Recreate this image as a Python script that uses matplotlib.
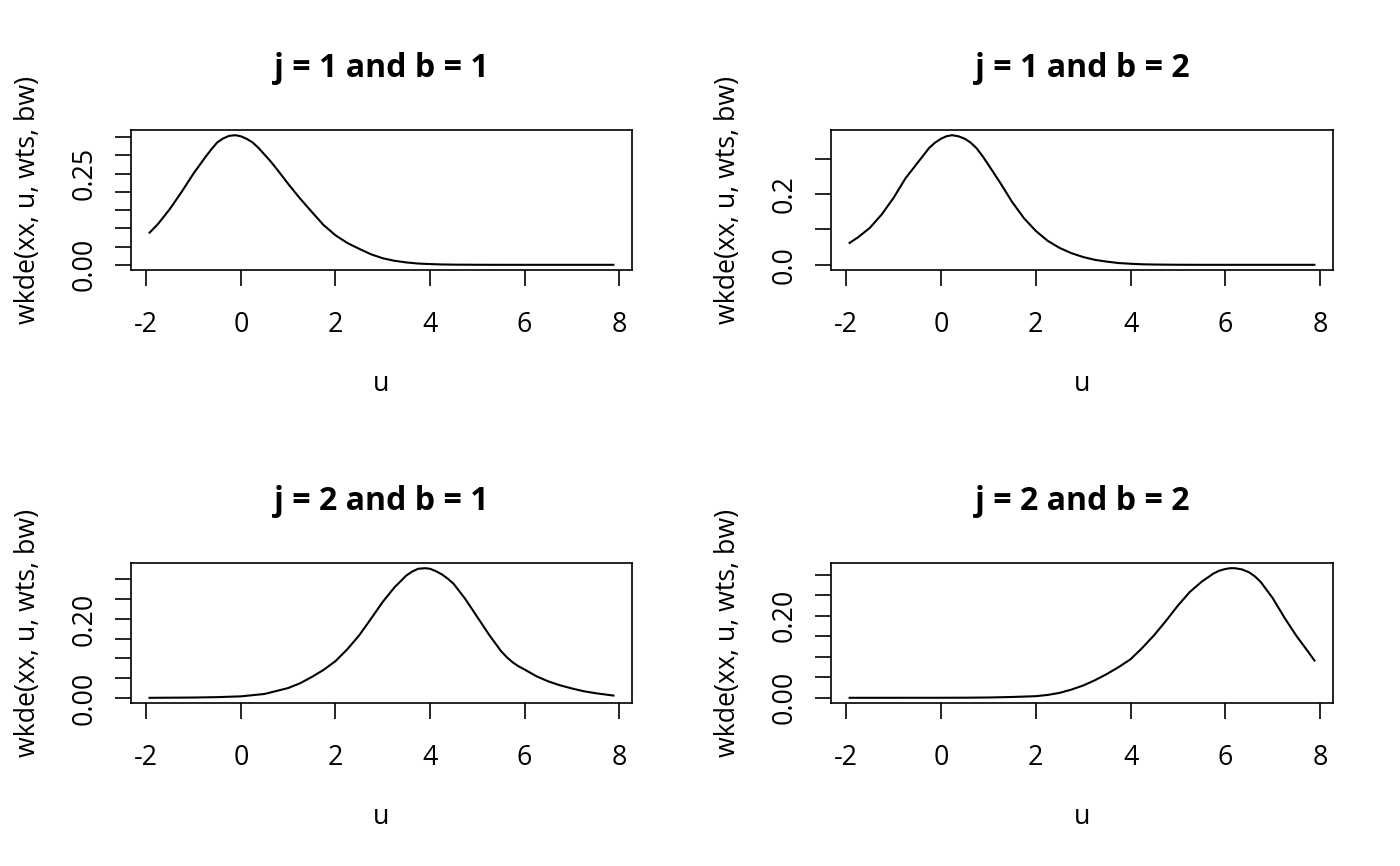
import matplotlib
matplotlib.use("Agg")
import matplotlib.pyplot as plt

plt.rcParams['font.family'] = ['Open Sans', 'DejaVu Sans']

# ---- data ----
titles = ["j = 1 and b = 1", "j = 1 and b = 2", "j = 2 and b = 1", "j = 2 and b = 2"]

u1 = [-1.93, -1.75, -1.5, -1.25, -1.0, -0.75, -0.625, -0.5, -0.375, -0.25, -0.12, 0.0, 0.125,
      0.25, 0.375, 0.5, 0.625, 0.75, 1.0, 1.25, 1.5, 1.75, 2.0, 2.25, 2.5, 2.75, 3.0, 3.25,
      3.5, 3.75, 4.0, 4.25, 4.5, 5.0, 5.5, 6.0, 7.0, 7.88]
d1 = [0.088, 0.112, 0.153, 0.200, 0.250, 0.295, 0.316, 0.335, 0.346, 0.353, 0.355, 0.352,
      0.345, 0.335, 0.320, 0.302, 0.284, 0.264, 0.222, 0.182, 0.145, 0.109, 0.081, 0.060,
      0.044, 0.029, 0.018, 0.011, 0.0065, 0.0035, 0.002, 0.001, 0.0005, 0.0001, 0.0, 0.0,
      0.0, 0.0]

u2 = [-1.93, -1.75, -1.5, -1.25, -1.0, -0.75, -0.5, -0.25, -0.125, 0.0, 0.115, 0.23, 0.365,
      0.5, 0.625, 0.75, 0.875, 1.0, 1.25, 1.5, 1.75, 2.0, 2.25, 2.5, 2.75, 3.0, 3.25, 3.5,
      3.75, 4.0, 4.25, 4.5, 5.0, 5.5, 6.0, 7.0, 7.88]
d2 = [0.062, 0.078, 0.105, 0.143, 0.190, 0.245, 0.288, 0.331, 0.346, 0.357, 0.364, 0.367,
      0.364, 0.357, 0.346, 0.330, 0.308, 0.283, 0.232, 0.178, 0.132, 0.096, 0.068, 0.048,
      0.033, 0.022, 0.014, 0.009, 0.005, 0.003, 0.0015, 0.0008, 0.0002, 0.0, 0.0, 0.0, 0.0]

u3 = [-1.93, -1.0, -0.5, 0.0, 0.5, 1.0, 1.25, 1.5, 1.75, 2.0, 2.25, 2.5, 2.75, 3.0, 3.25, 3.5,
      3.625, 3.75, 3.9, 4.0, 4.125, 4.25, 4.375, 4.5, 4.75, 5.0, 5.25, 5.5, 5.625, 5.75,
      5.875, 6.0, 6.25, 6.5, 6.75, 7.0, 7.25, 7.5, 7.88]
d3 = [0.0003, 0.001, 0.002, 0.004, 0.010, 0.025, 0.037, 0.053, 0.071, 0.093, 0.123, 0.158,
      0.200, 0.243, 0.280, 0.310, 0.320, 0.327, 0.3285, 0.327, 0.321, 0.313, 0.302, 0.289,
      0.250, 0.205, 0.160, 0.119, 0.103, 0.090, 0.080, 0.072, 0.055, 0.042, 0.032, 0.024,
      0.017, 0.012, 0.006]

u4 = [-1.93, 0.0, 0.5, 1.0, 1.5, 2.0, 2.25, 2.5, 2.75, 3.0, 3.25, 3.5, 3.75, 4.0, 4.25, 4.5,
      4.75, 5.0, 5.25, 5.5, 5.75, 5.875, 6.0, 6.1, 6.2, 6.35, 6.5, 6.625, 6.75, 7.0, 7.25,
      7.5, 7.75, 7.88]
d4 = [0.0, 0.0001, 0.0003, 0.0008, 0.002, 0.004, 0.007, 0.012, 0.020, 0.030, 0.043, 0.058,
      0.075, 0.094, 0.122, 0.153, 0.188, 0.225, 0.258, 0.283, 0.303, 0.310, 0.314, 0.316,
      0.316, 0.313, 0.306, 0.296, 0.282, 0.243, 0.195, 0.151, 0.112, 0.091]

xticks = [-2, 0, 2, 4, 6, 8]
xticklabels = ["-2", "0", "2", "4", "6", "8"]

yticks1 = [0.0, 0.05, 0.10, 0.15, 0.20, 0.25, 0.30, 0.35]
ylabels1 = ["0.00", "", "", "", "", "0.25", "", ""]
yticks2 = [0.0, 0.1, 0.2, 0.3]
ylabels2 = ["0.0", "", "0.2", ""]
yticks3 = [0.0, 0.05, 0.10, 0.15, 0.20, 0.25, 0.30]
ylabels3 = ["0.00", "", "", "", "0.20", "", ""]
yticks4 = [0.0, 0.05, 0.10, 0.15, 0.20, 0.25, 0.30]
ylabels4 = ["0.00", "", "", "", "0.20", "", ""]

series = [(u1, d1, yticks1, ylabels1), (u2, d2, yticks2, ylabels2),
          (u3, d3, yticks3, ylabels3), (u4, d4, yticks4, ylabels4)]

W, H = 1400, 866
fig = plt.figure(figsize=(W / 100, H / 100), dpi=100)

# panel boxes in pixels: (left, top, right, bottom)
boxes = [(131, 130, 632, 270), (831, 130, 1333, 270),
         (131, 563, 632, 703), (831, 563, 1333, 703)]

BASE = 19.3
for (l, t, r, b), title, (u, d, yt, yl) in zip(boxes, titles, series):
    ax = fig.add_axes([l / W, 1 - b / H, (r - l) / W, (b - t) / H])
    ax.plot(u, d, color="black", lw=1.5)
    xr = max(u) - min(u)
    ax.set_xlim(min(u) - 0.04 * xr, max(u) + 0.04 * xr)
    yr = max(d) - min(d)
    ax.set_ylim(min(d) - 0.04 * yr, max(d) + 0.04 * yr)
    for s in ax.spines.values():
        s.set_linewidth(1.2)
        s.set_color("black")
    ax.set_xticks(xticks)
    ax.set_xticklabels(xticklabels)
    ax.set_yticks(yt)
    ax.set_yticklabels(yl, rotation=90, va="center")
    ax.tick_params(axis="both", direction="out", length=11.5, width=1.2,
                   labelsize=BASE, color="black")
    ax.tick_params(axis="x", pad=18)
    ax.tick_params(axis="y", pad=12)
    ax.set_title(title, fontsize=BASE * 1.2, fontweight="bold", pad=38.5)
    ax.set_xlabel("u", fontsize=BASE)
    ax.xaxis.set_label_coords(0.5, -121 / (b - t))
    ax.xaxis.label.set_va("baseline")
    ax.set_ylabel("wkde(xx, u, wts, bw)", fontsize=BASE)
    ax.yaxis.set_label_coords(-103 / (r - l), 0.5)
    ax.yaxis.label.set_va("center")

fig.savefig("out.png", dpi=100, facecolor="white")
